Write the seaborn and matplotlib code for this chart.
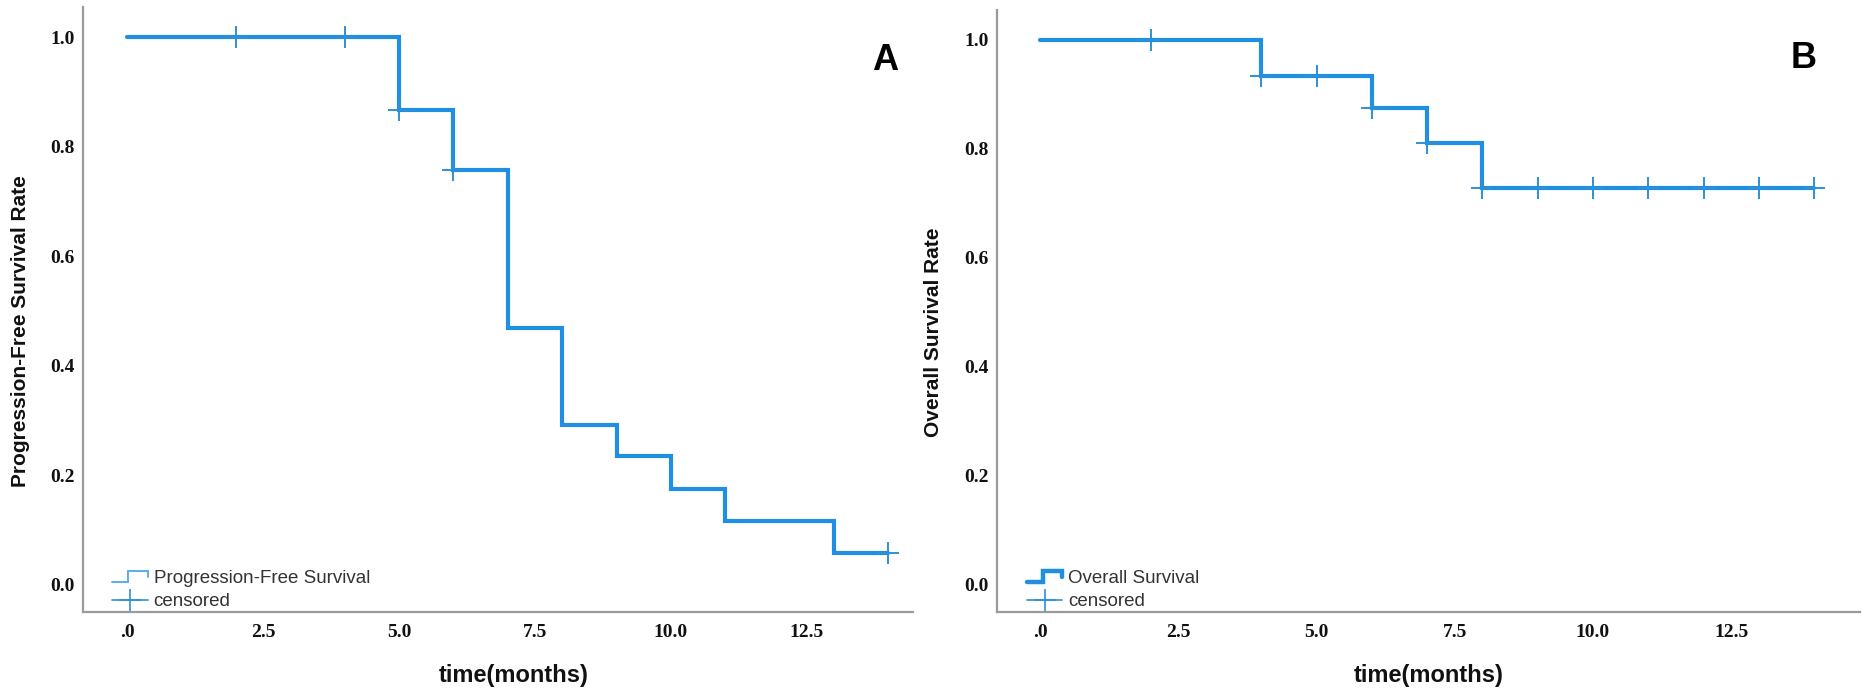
import numpy as np
import pandas as pd
import seaborn as sns
import matplotlib.pyplot as plt
from matplotlib.legend_handler import HandlerBase
from matplotlib.lines import Line2D

# Kaplan-Meier steps
pfs_times = [0, 5, 6, 7, 8, 9, 10, 11, 13, 14]
pfs_surv = [1.0, 0.867, 0.758, 0.468, 0.292, 0.234, 0.175, 0.117, 0.058, 0.058]
pfs_censored = [2, 4, 5, 6, 14]

os_times = [0, 4, 6, 7, 8, 14]
os_surv = [1.0, 0.933, 0.875, 0.81, 0.729, 0.729]
os_censored = [2, 4, 5, 6, 7, 8, 9, 10, 11, 12, 13, 14]

x_ticks = [0, 2.5, 5.0, 7.5, 10.0, 12.5]
x_ticklabels = [".0", "2.5", "5.0", "7.5", "10.0", "12.5"]
y_ticks = [0.0, 0.2, 0.4, 0.6, 0.8, 1.0]
y_ticklabels = ["0.0", "0.2", "0.4", "0.6", "0.8", "1.0"]

LINE_C = "#1e8fe3"
CENS_C = "#2f8fd6"
LEG_C = "#5aaee8"

sns.set_theme(style="white")
plt.rcParams["font.family"] = ["Liberation Sans", "DejaVu Sans"]


def surv_at(times, surv, t):
    idx = np.searchsorted(times, t, side="right") - 1
    return surv[idx]


class StepHandler(HandlerBase):
    def __init__(self, lw, color):
        super().__init__()
        self.lw = lw
        self.color = color

    def create_artists(self, legend, orig_handle, xdescent, ydescent,
                       width, height, fontsize, trans):
        x0 = -xdescent
        y0 = -ydescent
        xs = [x0, x0 + 0.45 * width, x0 + 0.45 * width, x0 + width, x0 + width]
        ys = [y0 + 0.1 * height, y0 + 0.1 * height, y0 + 0.95 * height,
              y0 + 0.95 * height, y0 + 0.5 * height]
        ln = Line2D(xs, ys, color=self.color, lw=self.lw,
                    solid_joinstyle="miter", transform=trans)
        return [ln]


def km_panel(ax, times, surv, cens, name, ylabel, legend_lw, legend_c,
             xlim, letter, letter_pos, xlabel_x, ylabel_x):
    df = pd.DataFrame({"time": times, "surv": surv})
    sns.lineplot(data=df, x="time", y="surv", drawstyle="steps-post",
                 color=LINE_C, lw=3.0, ax=ax, legend=False,
                 solid_joinstyle="miter")
    cdf = pd.DataFrame({"time": cens,
                        "surv": [surv_at(times, surv, t) for t in cens]})
    sns.scatterplot(data=cdf, x="time", y="surv", marker="+", s=250,
                    linewidth=1.4, color=CENS_C, ax=ax, legend=False,
                    zorder=3)

    ax.set_xlim(*xlim)
    ax.set_ylim(-0.05, 1.055)
    ax.set_xticks(x_ticks)
    ax.set_xticklabels(x_ticklabels)
    ax.set_yticks(y_ticks)
    ax.set_yticklabels(y_ticklabels)
    for lab in ax.get_xticklabels() + ax.get_yticklabels():
        lab.set_fontfamily("Liberation Serif")
        lab.set_fontweight("bold")
        lab.set_fontsize(14)
        lab.set_color("#111111")
    ax.tick_params(axis="x", length=0, pad=9)
    ax.tick_params(axis="y", length=0, pad=6)

    for side in ["top", "right"]:
        ax.spines[side].set_visible(False)
    for side in ["left", "bottom"]:
        ax.spines[side].set_color("#9a9a9a")
        ax.spines[side].set_linewidth(1.6)

    ax.set_xlabel("time(months)", fontsize=17, fontweight="bold",
                  color="#111111")
    ax.xaxis.set_label_coords(xlabel_x, -0.086)
    ax.set_ylabel(ylabel, fontsize=15, fontweight="bold", color="#111111")
    ax.yaxis.set_label_coords(ylabel_x, 0.465)

    ax.text(letter_pos[0], letter_pos[1], letter, transform=ax.transAxes,
            fontsize=26, fontweight="bold", ha="center", va="center",
            color="black")

    h_curve = Line2D([], [], color=legend_c)
    h_cens = Line2D([], [], color=CENS_C, marker="+", markersize=16,
                    markeredgewidth=1.2, lw=1.2)
    ax.legend([h_curve, h_cens], [name, "censored"], loc="lower left",
              bbox_to_anchor=(0.015, -0.025), frameon=False, fontsize=13.5,
              handlelength=1.9, handletextpad=0.3, labelspacing=0.3,
              labelcolor="#333333",
              handler_map={h_curve: StepHandler(legend_lw, legend_c)})


fig = plt.figure(figsize=(18.72, 6.96), dpi=100)
ax1 = fig.add_axes([0.0443, 0.1207, 0.4434, 0.8693])
ax2 = fig.add_axes([0.5326, 0.1207, 0.4610, 0.8650])

km_panel(ax1, pfs_times, pfs_surv, pfs_censored,
         "Progression-Free Survival", "Progression-Free Survival Rate",
         1.4, LEG_C, (-0.81, 14.45), "A", (0.966, 0.912), 0.519, -0.064)
km_panel(ax2, os_times, os_surv, os_censored,
         "Overall Survival", "Overall Survival Rate",
         3.2, LINE_C, (-0.78, 14.83), "B", (0.935, 0.92), 0.5, -0.063)

plt.savefig("out.png", dpi=100)
